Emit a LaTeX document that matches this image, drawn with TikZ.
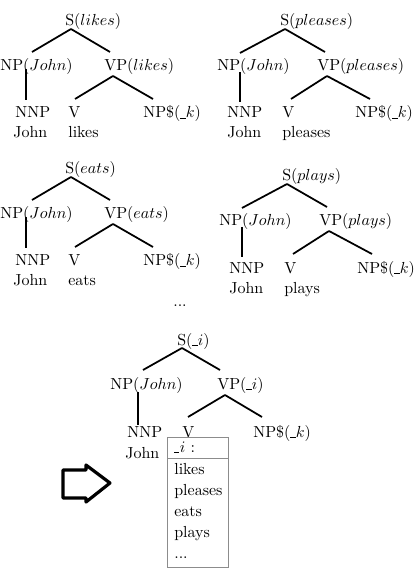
\documentclass[tikz,border=0pt]{standalone}
\usetikzlibrary{calc}
\newcommand\usc{\rule[-0.1pt]{3.2pt}{0.4pt}\kern0.2pt}
\tikzset{
  lab/.style={inner sep=0pt, anchor=base west},
  labe/.style={inner sep=0pt, anchor=base east},
  edge/.style={line width=1.1pt},
  boxline/.style={draw=black!45, line width=0.6pt},
  bigarrow/.style={line width=2pt, line join=round}
}
% tree type A (trees 1 and 3)
\newcommand\treeA[5]{%
  \node[lab]  (s#1)   at ({65+#2},{26+#3}) {S($#4$)};
  \node[labe] (np#1)  at ({73+#2},{71+#3}) {NP($John$)};
  \node[lab]  (vp#1)  at ({104+#2},{71+#3}) {VP($#4$)};
  \node[lab]  (nnp#1) at ({15+#2},{118+#3}) {NNP};
  \node[lab]  (v#1)   at ({68+#2},{118+#3}) {V};
  \node[lab]  (npk#1) at ({143+#2},{118+#3}) {NP\$(\usc$k$)};
  \node[lab]  (john#1) at ({13+#2},{138+#3}) {John};
  \node[lab]  (w#1)   at ({68+#2},{138+#3}) {#5};
  \draw[edge] ($(s#1.base west)+(6,3)$) -- ($(np#1.base east)+(-41,-19)$);
  \draw[edge] ($(s#1.base west)+(6,3)$) -- ($(vp#1.base west)+(6,-19)$);
  \draw[edge] ($(np#1.base east)+(-47,-2)$) -- ($(nnp#1.base west)+(11,-18)$);
  \draw[edge] ($(vp#1.base west)+(9,5)$) -- ($(v#1.base west)+(7,-19)$);
  \draw[edge] ($(vp#1.base west)+(9,5)$) -- ($(npk#1.base west)+(10,-19)$);
}
% tree type B (trees 2 and 4)
\newcommand\treeB[5]{%
  \node[lab]  (s#1)   at ({280+#2},{26+#3}) {S($#4$)};
  \node[labe] (np#1)  at ({290+#2},{71+#3}) {NP($John$)};
  \node[lab]  (vp#1)  at ({317+#2},{71+#3}) {VP($#4$)};
  \node[lab]  (nnp#1) at ({227+#2},{118+#3}) {NNP};
  \node[lab]  (v#1)   at ({282+#2},{118+#3}) {V};
  \node[lab]  (npk#1) at ({355+#2},{118+#3}) {NP\$(\usc$k$)};
  \node[lab]  (john#1) at ({227+#2},{138+#3}) {John};
  \node[lab]  (w#1)   at ({282+#2},{138+#3}) {#5};
  \draw[edge] ($(s#1.base west)+(5,3)$) -- ($(np#1.base east)+(-50,-18)$);
  \draw[edge] ($(s#1.base west)+(5,3)$) -- ($(vp#1.base west)+(8,-19)$);
  \draw[edge] ($(np#1.base east)+(-50,1)$) -- ($(nnp#1.base west)+(13,-16)$);
  \draw[edge] ($(vp#1.base west)+(10,5)$) -- ($(v#1.base west)+(9,-19)$);
  \draw[edge] ($(vp#1.base west)+(10,5)$) -- ($(npk#1.base west)+(15,-19)$);
}
\begin{document}
\begin{tikzpicture}[x=0.625pt, y=-0.625pt]
\useasboundingbox (0,0) rectangle (418,568);

\treeA{a}{0}{0}{likes}{likes}
\treeB{b}{0}{0}{pleases}{pleases}
\treeA{c}{0}{148}{eats}{eats}
\treeB{d}{2}{155}{plays}{plays}

\node[inner sep=0pt] (dots) at (180,306) {...};

% final tree
\node[lab]  (s5)   at (177,345) {S(\usc$i$)};
\node[labe] (np5)  at (183,389) {NP($John$)};
\node[lab]  (vp5)  at (217,389) {VP(\usc$i$)};
\node[lab]  (nnp5) at (127,437) {NNP};
\node[lab]  (v5)   at (182,437) {V};
\node[lab]  (npk5) at (253,437) {NP\$(\usc$k$)};
\node[lab]  (john5) at (125,458) {John};
\draw[edge] ($(s5.base west)+(5,3)$) -- ($(np5.base east)+(-40,-19)$);
\draw[edge] ($(s5.base west)+(5,3)$) -- ($(vp5.base west)+(3,-19)$);
\draw[edge] ($(np5.base east)+(-45,3)$) -- ($(nnp5.base west)+(11,-12)$);
\draw[edge] ($(vp5.base west)+(8,6)$) -- ($(v5.base west)+(6,-20)$);
\draw[edge] ($(vp5.base west)+(8,6)$) -- ($(npk5.base west)+(9,-20)$);

% list box
\draw[boxline] (167,437) rectangle (228,567);
\draw[boxline] (167,458) -- (228,458);
\node[lab] (hdr) at (174,452) {\usc$i$ :};
\node[lab] (l1) at (174,474) {likes};
\node[lab] (l2) at (174,495) {pleases};
\node[lab] (l3) at (174,516) {eats};
\node[lab] (l4) at (174,537) {plays};
\node[lab] (l5) at (174,558) {...};

% block arrow
\draw[bigarrow] (63,470) -- (86,470) -- (86,465) -- (110,483) -- (86,502)
  -- (86,498) -- (63,498) -- cycle;
\end{tikzpicture}
\end{document}
